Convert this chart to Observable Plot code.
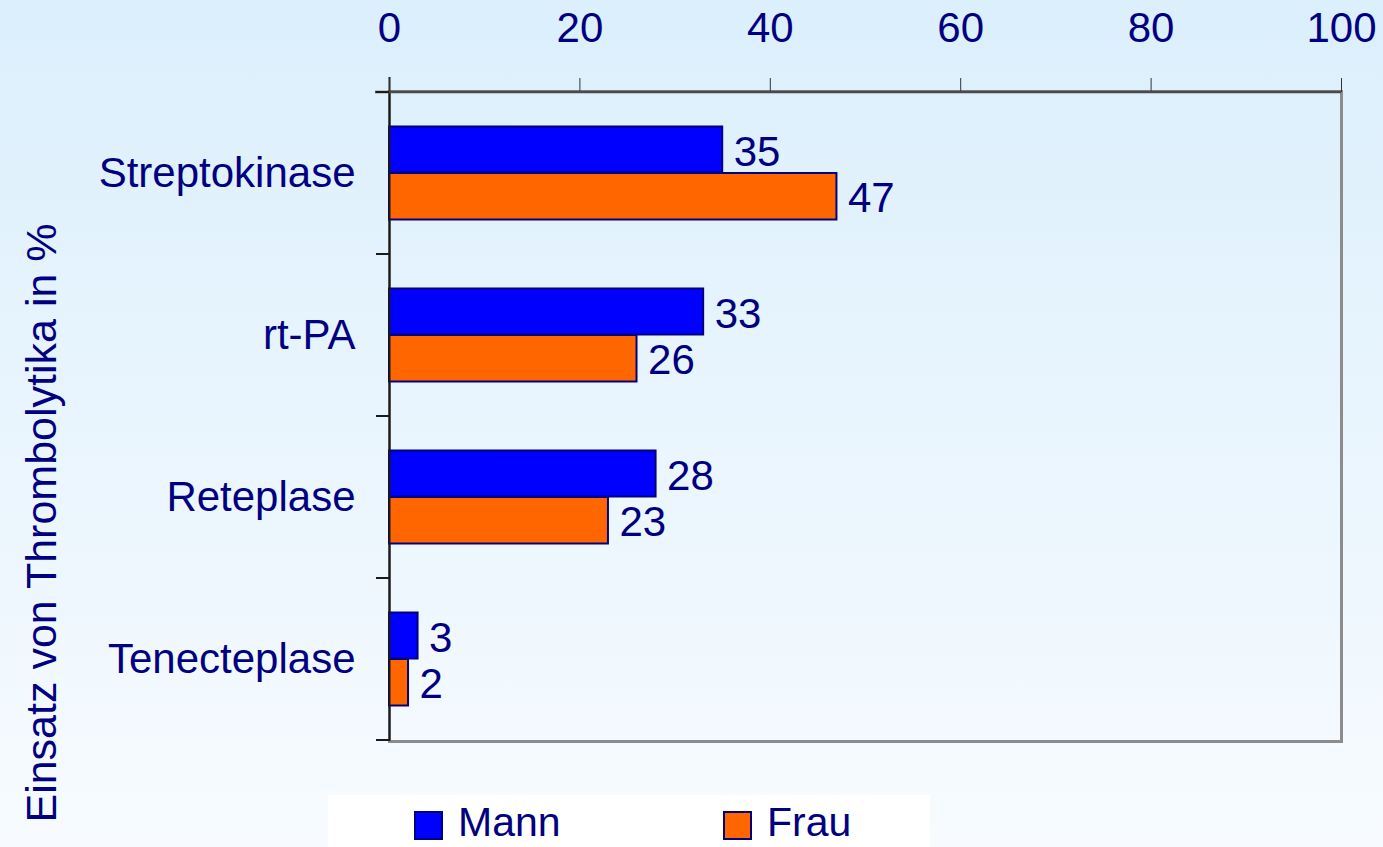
<!DOCTYPE html>
<html><head><meta charset="utf-8">
<script src="https://cdn.jsdelivr.net/npm/d3@7"></script>
<script src="https://cdn.jsdelivr.net/npm/@observablehq/plot@0.6"></script>
<style>
body{margin:0;}
#wrap{position:relative;width:1383px;height:847px;overflow:hidden;background:linear-gradient(#dbeffc,#f7fbff);font-family:"Liberation Sans",Arial,sans-serif;color:#000080;}
#ytitle{position:absolute;left:41px;top:523px;transform:translate(-50%,-50%) rotate(-90deg);font-size:43px;white-space:nowrap;line-height:1;}
#legend{position:absolute;left:328px;top:795px;width:602px;height:52px;background:#fff;}
.sw{position:absolute;top:16px;width:25px;height:25px;border:2px solid #000080;}
.lt{position:absolute;top:11px;font-size:41px;line-height:0.8;}
svg{position:absolute;left:0;top:0;}
</style></head><body><div id="wrap"><div id="ytitle"></div><div id="legend"></div></div>
<script>
const drugs = ["Streptokinase", "rt-PA", "Reteplase", "Tenecteplase"];
const series = ["Mann", "Frau"];
const mann = [35, 33, 28, 3];
const frau = [47, 26, 23, 2];
const xTicks = [0, 20, 40, 60, 80, 100];
const colors = ["#0000ff", "#ff6600"];
const yTitle = "Einsatz von Thrombolytika in %";

const data = drugs.flatMap((d, i) => [
  {drug: d, sex: series[0], value: mann[i]},
  {drug: d, sex: series[1], value: frau[i]}
]);
const dM = data.filter(d => d.sex === series[0]);
const dF = data.filter(d => d.sex === series[1]);

const plot = Plot.plot({
  width: 1383, height: 795,
  marginLeft: 389, marginRight: 42, marginTop: 91, marginBottom: 54,
  style: {background: "transparent", fontFamily: "Liberation Sans, Arial, sans-serif", fontSize: "42px", color: "#000080", overflow: "visible"},
  x: {domain: [0, 100]},
  y: {domain: drugs, padding: 0},
  color: {domain: series, range: colors},
  marks: [
    Plot.frame({stroke: "#8c8c8c", strokeWidth: 3}),
    Plot.barX(dM, {x: "value", y: "drug", fill: "sex", stroke: "#000080", strokeWidth: 2, insetTop: 34.5, insetBottom: 81.5}),
    Plot.barX(dF, {x: "value", y: "drug", fill: "sex", stroke: "#000080", strokeWidth: 2, insetTop: 81, insetBottom: 34.5}),
    Plot.text(dM, {x: "value", y: "drug", text: d => String(d.value), dx: 11, dy: -21, textAnchor: "start", fill: "#000080", fontSize: 42}),
    Plot.text(dF, {x: "value", y: "drug", text: d => String(d.value), dx: 11, dy: 25, textAnchor: "start", fill: "#000080", fontSize: 42}),
    Plot.ruleX([0], {stroke: "#1a1a1a", strokeWidth: 2, insetTop: -14}),
    Plot.axisX({anchor: "top", ticks: xTicks, tickSize: 14, tickPadding: 36, stroke: "#333", fill: "#000080", label: null}),
    Plot.axisY({tickSize: 0, tickPadding: 34, fill: "#000080", label: null})
  ]
});

const ys = plot.scale("y"), xs = plot.scale("x");
const x0 = xs.apply(0), x1 = xs.apply(100);
const bounds = drugs.map(d => ys.apply(d));
bounds.push(ys.apply(drugs[drugs.length - 1]) + ys.bandwidth);
const g = d3.select(plot).append("g");
g.append("line").attr("x1", x0 - 14).attr("x2", x1).attr("y1", bounds[0]).attr("y2", bounds[0]).attr("stroke", "#4a4a4a").attr("stroke-width", 2.5);
g.selectAll("line.b").data(bounds).join("line").attr("class", "b")
  .attr("x1", x0 - 13).attr("x2", x0).attr("y1", d => d).attr("y2", d => d)
  .attr("stroke", "#1a1a1a").attr("stroke-width", 2);

document.getElementById("wrap").appendChild(plot);
document.getElementById("ytitle").textContent = yTitle;
const leg = document.getElementById("legend");
const legX = [86, 395];
series.forEach((s, i) => {
  const sw = document.createElement("div");
  sw.className = "sw"; sw.style.left = legX[i] + "px"; sw.style.background = colors[i];
  const t = document.createElement("div");
  t.className = "lt"; t.style.left = (legX[i] + 44) + "px"; t.textContent = s;
  leg.appendChild(sw); leg.appendChild(t);
});
</script></body></html>
